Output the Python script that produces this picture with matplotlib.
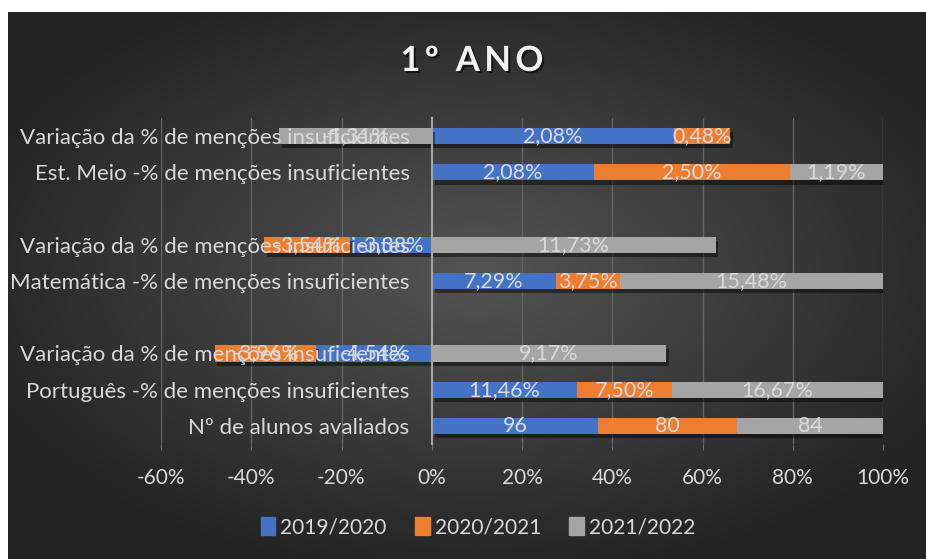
import numpy as np
import matplotlib.pyplot as plt
import matplotlib.patheffects as pe
from matplotlib.patches import Patch
from matplotlib.ticker import FuncFormatter

plt.rcParams['font.family'] = ['Lato', 'DejaVu Sans']

# rows from bottom to top; empty rows are the gaps between subjects
categories = [
    "Nº de alunos avaliados",
    "Português -% de menções insuficientes",
    "Variação da % de menções insuficientes",
    "",
    "Matemática -% de menções insuficientes",
    "Variação da % de menções insuficientes",
    "",
    "Est. Meio -% de menções insuficientes",
    "Variação da % de menções insuficientes",
]
series_names = ["2019/2020", "2020/2021", "2021/2022"]
v2019 = [96, 11.46, -4.54, np.nan, 7.29, -3.38, np.nan, 2.08, 2.08]
v2020 = [80, 7.50, -3.96, np.nan, 3.75, -3.54, np.nan, 2.50, 0.48]
v2021 = [84, 16.67, 9.17, np.nan, 15.48, 11.73, np.nan, 1.19, -1.31]
colors = ["#4472C4", "#ED7D31", "#A5A5A5"]

TXT = "#d9d9d9"
W, H = 926, 559
fig = plt.figure(figsize=(W / 100, H / 100), dpi=100, facecolor="white")

# dark radial background of the chart area
bg = fig.add_axes([8 / W, 0, 1 - 8 / W, 1 - 12 / H], zorder=-5)
gx, gy = np.meshgrid(np.linspace(-1, 1, 400), np.linspace(-1, 1, 250))
r = np.sqrt(((gx - 0.02) / 1.05) ** 2 + ((gy + 0.05) / 1.0) ** 2)
shade = np.clip(0.33 - 0.17 * r, 0.14, 0.33)
bg.imshow(np.dstack([shade] * 3), aspect="auto", extent=(0, 1, 0, 1))
bg.axis("off")

ax = fig.add_axes([161 / W, 1 - 444 / H, (883 - 161) / W, (444 - 118) / H])
ax.set_facecolor("none")

data = np.array([v2019, v2020, v2021])
y = np.arange(len(categories))
total = np.nansum(np.abs(data), axis=0)
total[total == 0] = 1
pct = data / total * 100

xticks = np.arange(-60, 101, 20)
for t in xticks:
    if t != 0:
        ax.axvline(t, color="#646464", lw=1, zorder=0)

pos_left = np.zeros(len(categories))
neg_left = np.zeros(len(categories))
shadow = [pe.SimplePatchShadow(offset=(2, -3), shadow_rgbFace="black", alpha=0.45), pe.Normal()]
for i, (name, col) in enumerate(zip(series_names, colors)):
    p = np.nan_to_num(pct[i])
    left = np.where(p >= 0, pos_left, neg_left)
    bars = ax.barh(y, p, left=left, height=0.45, color=col, label=name, zorder=1)
    for b in bars:
        b.set_path_effects(shadow)
    for j in range(len(categories)):
        v = data[i, j]
        if np.isnan(v):
            continue
        if j == 0:
            s = f"{v:.0f}"
        else:
            s = f"{v:.2f}%".replace(".", ",")
        ax.text(left[j] + p[j] / 2, y[j], s, ha="center", va="center",
                color=TXT, fontsize=15.5, zorder=5)
    pos_left += np.where(p >= 0, p, 0)
    neg_left += np.where(p < 0, p, 0)

ax.set_xlim(-60, 100)
ax.set_ylim(-0.5, len(categories) - 0.5)
ax.set_xticks(xticks)
ax.xaxis.set_major_formatter(FuncFormatter(lambda v, _: f"{v:.0f}%"))

ax.set_yticks(y)
ax.set_yticklabels(categories)
for sp in ["top", "right", "bottom"]:
    ax.spines[sp].set_visible(False)
ax.spines["left"].set_position(("data", 0))
ax.spines["left"].set_color("#a6a6a6")
ax.spines["left"].set_linewidth(1.5)
ax.spines["left"].set_zorder(3)
ax.tick_params(axis="y", length=0, pad=16, labelsize=16, labelcolor=TXT)
ax.tick_params(axis="x", length=4, color="#6e6e6e", pad=13, labelsize=15, labelcolor=TXT)

fig.text(472 / W, 1 - 61 / H, "1\u2009º\u2009 \u2009A\u2009N\u2009O", ha="center", va="center",
         fontsize=25, fontweight="bold", color="#f2f2f2",
         path_effects=[pe.withSimplePatchShadow(offset=(1.5, -1.5), shadow_rgbFace="black", alpha=0.6)])

handles = [Patch(color=c, label=n) for c, n in zip(colors, series_names)]
fig.legend(handles=handles, loc="center", bbox_to_anchor=(478 / W, 1 - 527 / H), ncol=3,
           frameon=False, fontsize=15, labelcolor=TXT, handlelength=0.7, handleheight=1.0,
           handletextpad=0.25, columnspacing=1.35)

fig.savefig("out.png", dpi=100)
